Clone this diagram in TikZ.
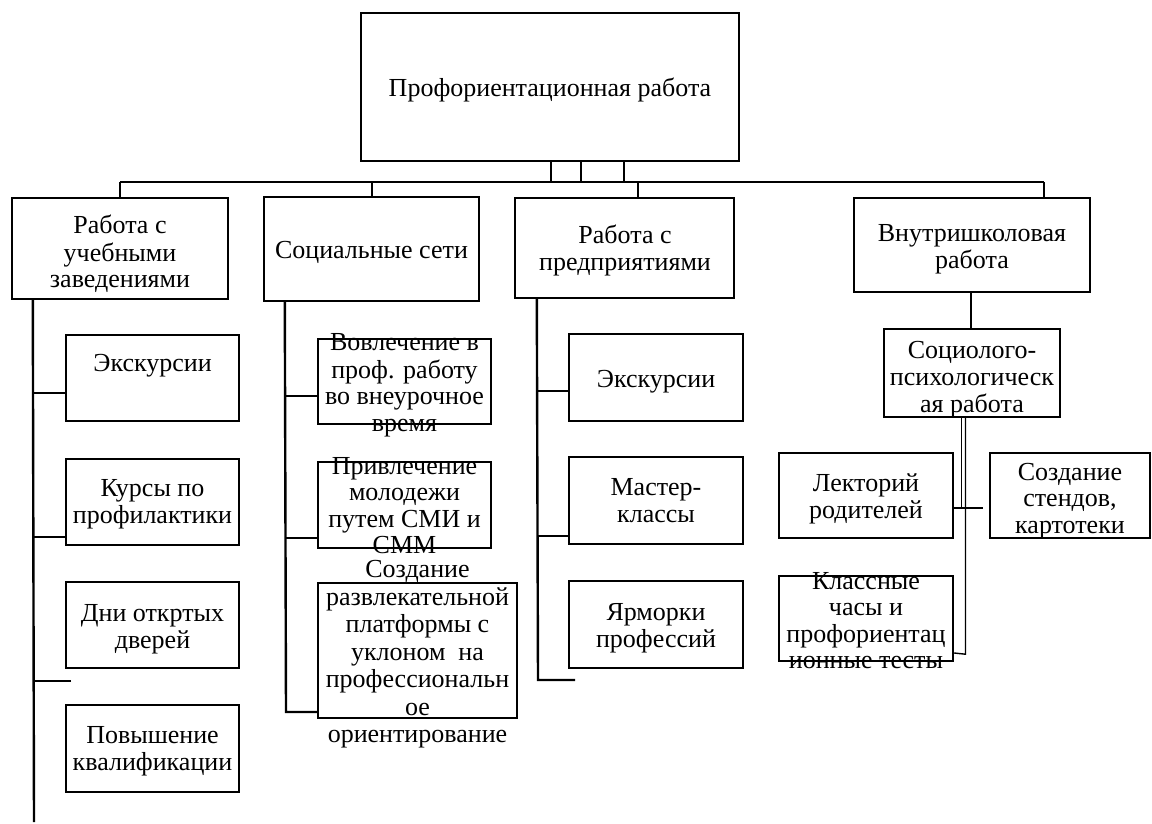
\documentclass[tikz,border=0pt]{standalone}
\usepackage{fontspec}
\setmainfont{Liberation Serif}
\begin{document}
\begin{tikzpicture}[x=1pt,y=-1pt,
  box/.style={draw, line width=2.4pt, inner sep=0pt, minimum width=#1},
  ln/.style={line width=2.4pt},
  thin/.style={line width=1.4pt},
  txt/.style={font=\fontsize{26}{26.5}\selectfont, align=center, inner sep=0pt, yshift=-3.5pt}]
\useasboundingbox[fill=white] (0,0) rectangle (1152,823);
\def\s{\strut}
% boxes
\node[box=378pt, minimum height=148pt] (top) at (550,87) {};
\node[box=216pt, minimum height=101pt] (b1) at (120,248.5) {};
\node[box=215pt, minimum height=104pt] (b2) at (371.5,249) {};
\node[box=219pt, minimum height=100pt] (b3) at (624.5,248) {};
\node[box=236pt, minimum height=94pt] (b4) at (972,245) {};
\node[box=173pt, minimum height=86pt] (c11) at (152.5,378) {};
\node[box=173pt, minimum height=86pt] (c12) at (152.5,502) {};
\node[box=173pt, minimum height=86pt] (c13) at (152.5,625) {};
\node[box=173pt, minimum height=87pt] (c14) at (152.5,748.5) {};
\node[box=173pt, minimum height=85pt] (c21) at (404.5,381.5) {};
\node[box=173pt, minimum height=86pt] (c22) at (404.5,505) {};
\node[box=199pt, minimum height=135pt] (c23) at (417.5,650.5) {};
\node[box=174pt, minimum height=87pt] (c31) at (656,377.5) {};
\node[box=174pt, minimum height=87pt] (c32) at (656,500.5) {};
\node[box=174pt, minimum height=87pt] (c33) at (656,624.5) {};
\node[box=176pt, minimum height=88pt] (s) at (972,373) {};
\node[box=174pt, minimum height=85pt] (d1) at (866,495.5) {};
\node[box=160pt, minimum height=85pt] (d2) at (1070,495.5) {};
\node[box=174pt, minimum height=85pt] (d3) at (866,618.5) {};
% texts
\node[txt] (t0) at (550,88) {\s Профориентационная работа\s};
\node[txt] (t1) at (120,252) {\s Работа с\\\s учебными\\\s заведениями\s};
\node[txt] (t2) at (371.5,250) {\s Социальные сети\s};
\node[txt] (t3) at (625,248) {\s Работа с\\\s предприятиями\s};
\node[txt] (t4) at (972,246) {\s Внутришколовая\\\s работа\s};
\node[txt] (t11) at (152.5,363) {\s Экскурсии\s};
\node[txt] (t12) at (152.5,501) {\s Курсы по\\\s профилактики\s};
\node[txt] (t13) at (152.5,626) {\s Дни откртых\\\s дверей\s};
\node[txt] (t14) at (152.5,748) {\s Повышение\\\s квалификации\s};
\node[txt] (t21) at (404.5,382) {\s Вовлечение в\\\s проф. работу\\\s во внеурочное\\\s время\s};
\node[txt] (t22) at (404.5,505) {\s Привлечение\\\s молодежи\\\s путем СМИ и\\\s СММ\s};
\node[txt, font=\fontsize{26}{27.5}\selectfont] (t23) at (417.5,651) {\s Создание\\\s развлекательной\\\s платформы с\\\s уклоном\ \ на\\\s профессиональн\\\s ое\\\s ориентирование\s};
\node[txt] (t31) at (656,379) {\s Экскурсии\s};
\node[txt] (t32) at (656,500) {\s Мастер-\\\s классы\s};
\node[txt] (t33) at (656,625) {\s Ярморки\\\s профессий\s};
\node[txt] (ts) at (972,377) {\s Социолого-\\\s психологическ\\\s ая работа\s};
\node[txt] (td1) at (866,496) {\s Лекторий\\\s родителей\s};
\node[txt] (td2) at (1070,498) {\s Создание\\\s стендов,\\\s картотеки\s};
\node[txt] (td3) at (866,620) {\s Классные\\\s часы и\\\s профориентац\\\s ионные тесты\s};
% bus
\coordinate (busL) at (120,182);
\coordinate (busR) at (1044,182);
\draw[ln] (busL) -- (busR);
\draw[ln] ([xshift=1pt]top.south) -- ++(0,21);
\draw[ln] ([xshift=31pt]top.south) -- ++(0,21);
\draw[ln] ([xshift=74pt]top.south) -- ++(0,21);
\draw[ln] (b1.north) -- (b1.north |- busL);
\draw[ln] ([xshift=0.5pt]b2.north) -- ([xshift=0.5pt]b2.north |- busL);
\draw[ln] ([xshift=13.5pt]b3.north) -- ([xshift=13.5pt]b3.north |- busL);
\draw[ln] ([xshift=72pt]b4.north) -- (busR);
% column 1
\coordinate (e1) at (34,822);
\coordinate (f1) at (71,681);
\draw[ln] ([xshift=22pt]b1.south west) -- (e1);
\draw[ln] ([yshift=-15pt]c11.west) -- ++(-32,0);
\draw[ln] ([yshift=-35pt]c12.west) -- ++(-32,0);
\draw[ln] (f1) -- (34,681);
% column 2
\draw[ln] ([xshift=22pt]b2.south west) -- (286,712) -- ([yshift=-61.5pt]c23.west);
\draw[ln] ([yshift=-14.5pt]c21.west) -- ++(-32,0);
\draw[ln] ([yshift=-33pt]c22.west) -- ++(-32,0);
% column 3
\coordinate (f3) at (575,680);
\draw[ln] ([xshift=23pt]b3.south west) -- (538,680) -- (f3);
\draw[ln] ([yshift=-13.5pt]c31.west) -- ++(-31,0);
\draw[ln] ([yshift=-35.5pt]c32.west) -- ++(-31,0);
% column 4
\draw[ln] ([xshift=-1pt]b4.south) -- ([xshift=-1pt]s.north);
\draw[thin] ([xshift=-10.5pt]s.south) -- ++(0,91);
\draw[thin] ([xshift=-6.5pt]s.south) -- ++(0,236) -- ([yshift=-34.5pt]d3.east);
\coordinate (g4) at (983,508);
\draw[ln] ([yshift=-12.5pt]d1.east) -- (g4);
\end{tikzpicture}
\end{document}
